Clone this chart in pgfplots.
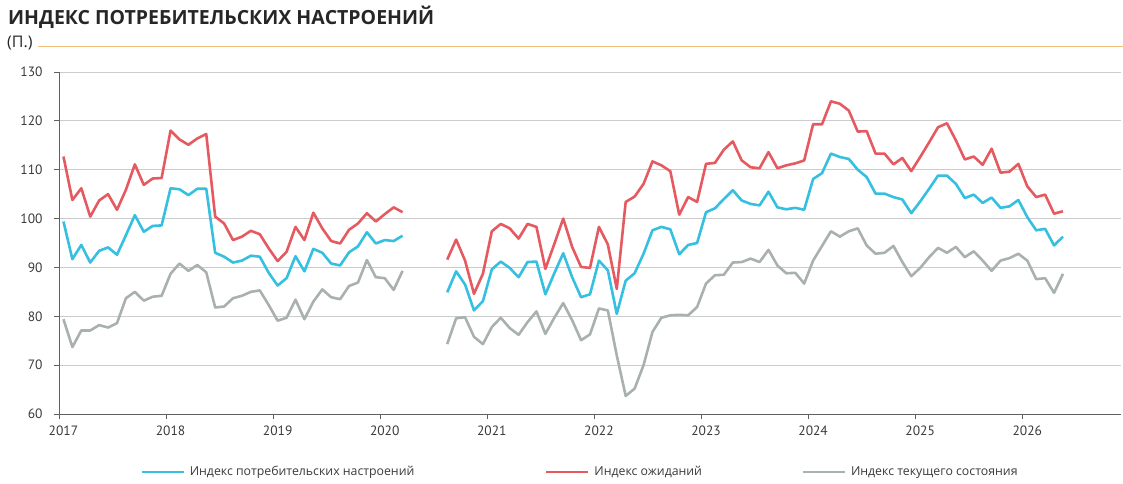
\documentclass[border=0pt]{standalone}
\usepackage{fontspec}
\setmainfont{PT Sans}
\newfontfamily\titlefont{Open Sans}
\usepackage{pgfplots}
\usepackage{pgfplotstable}
\pgfplotsset{compat=1.18}
\definecolor{cblue}{HTML}{35BFE0}
\definecolor{cred}{HTML}{E55A60}
\definecolor{cgray}{HTML}{A9B1B0}
\definecolor{ctext}{HTML}{3A3A3A}
\definecolor{ctitle}{HTML}{262626}
\definecolor{corange}{HTML}{F0BE78}
\definecolor{axgray}{HTML}{606060}
\definecolor{gridgray}{HTML}{CCCCCC}
\pgfplotstableread{
x ci ei cs
0 99.4 112.7 79.4
1 91.7 103.8 73.7
2 94.6 106.2 77.1
3 91.0 100.4 77.1
4 93.4 103.7 78.2
5 94.1 105.0 77.7
6 92.6 101.8 78.6
7 96.6 105.9 83.7
8 100.7 111.1 85.0
9 97.3 106.9 83.2
10 98.5 108.2 84.0
11 98.6 108.3 84.2
12 106.2 118.0 88.7
13 106.0 116.2 90.8
14 104.8 115.1 89.3
15 106.1 116.4 90.5
16 106.1 117.3 89.0
17 93.0 100.4 81.8
18 92.2 99.0 82.0
19 91.0 95.6 83.7
20 91.4 96.3 84.2
21 92.4 97.5 85.0
22 92.2 96.8 85.3
23 88.9 93.9 82.3
24 86.3 91.3 79.1
25 87.8 93.2 79.7
26 92.3 98.3 83.4
27 89.2 95.6 79.4
28 93.8 101.2 83.0
29 93.0 98.0 85.5
30 90.8 95.4 83.9
31 90.4 94.9 83.5
32 93.1 97.7 86.2
33 94.3 99.0 86.9
34 97.2 101.1 91.5
35 94.9 99.4 88.0
36 95.6 100.9 87.8
37 95.4 102.3 85.4
38 96.5 101.3 89.3
39 nan nan nan
43 84.9 91.6 74.3
44 89.2 95.7 79.6
45 86.5 91.4 79.8
46 81.2 84.6 75.8
47 83.1 88.7 74.3
48 89.6 97.4 77.8
49 91.2 98.9 79.7
50 89.9 98.0 77.6
51 88.0 95.9 76.2
52 91.1 98.9 78.8
53 91.2 98.3 81.0
54 84.5 89.7 76.4
55 88.8 94.8 79.7
56 92.9 100.0 82.7
57 88.0 94.2 79.2
58 83.9 90.1 75.1
59 84.5 89.9 76.3
60 91.4 98.3 81.6
61 89.4 94.7 81.2
62 80.5 85.6 72.0
63 87.3 103.4 63.7
64 88.8 104.5 65.2
65 92.8 107.1 70.0
66 97.6 111.7 76.8
67 98.3 110.9 79.7
68 97.8 109.7 80.2
69 92.7 100.8 80.3
70 94.6 104.4 80.2
71 95.0 103.4 81.9
72 101.3 111.2 86.7
73 102.1 111.4 88.4
74 104.0 114.1 88.5
75 105.8 115.8 91.0
76 103.7 111.9 91.1
77 103.0 110.5 91.8
78 102.7 110.3 91.1
79 105.5 113.6 93.6
80 102.3 110.3 90.4
81 101.9 110.9 88.8
82 102.2 111.3 88.9
83 101.8 111.9 86.7
84 108.1 119.3 91.4
85 109.3 119.3 94.4
86 113.3 124.0 97.4
87 112.6 123.5 96.3
88 112.2 122.1 97.4
89 110.0 117.8 98.0
90 108.5 117.9 94.5
91 105.1 113.3 92.8
92 105.1 113.3 93.0
93 104.4 111.1 94.4
94 103.9 112.4 91.1
95 101.1 109.7 88.2
96 103.5 112.6 89.9
97 106.1 115.6 92.1
98 108.8 118.7 94.0
99 108.8 119.5 93.0
100 107.1 116.0 94.2
101 104.2 112.1 92.1
102 104.9 112.7 93.3
103 103.2 111.0 91.4
104 104.3 114.3 89.3
105 102.2 109.4 91.4
106 102.5 109.6 91.9
107 103.8 111.2 92.8
108 100.3 106.6 91.4
109 97.6 104.4 87.6
110 97.9 104.9 87.8
111 94.5 101.0 84.8
112 96.3 101.5 88.7
}\data
\begin{document}
\begin{tikzpicture}
\useasboundingbox (-59pt,-69pt) rectangle (1064pt,414pt);
\begin{axis}[
  scale only axis, width=1062pt, height=342pt,
  xmin=-0.5, xmax=118.5, ymin=60, ymax=130,
  ytick={60,70,...,130},
  xtick={-0.5,11.5,...,107.5},
  xticklabels={2017,2018,2019,2020,2021,2022,2023,2024,2025,2026},
  xticklabel style={xshift=4.46pt, yshift=-3pt},
  yticklabel style={xshift=-8pt},
  separate axis lines,
  axis x line*=bottom, axis y line*=left,
  axis line style={-, draw=axgray, line width=0.9pt},
  tick align=outside, major tick length=5pt,
  tick style={draw=axgray, line width=0.9pt},
  ymajorgrids, grid style={draw=gridgray, line width=0.8pt},
  ticklabel style={font=\fontsize{13.5}{16}\selectfont, text=ctext},
  /pgf/number format/assume math mode=true,
  unbounded coords=jump,
  legend columns=3,
  legend cell align=left,
  legend style={at={(0.0763,-0.1696)}, anchor=west, draw=none, fill=none, inner sep=0pt,
     nodes={inner sep=0pt}, /tikz/every even column/.style={column sep=0pt},
     /tikz/every odd column/.style={column sep=0pt},
     font=\titlefont\fontsize{12.3}{15}\selectfont, text=ctext},
  legend image code/.code={\draw[#1] (0pt,0pt) -- (42pt,0pt);},
]
\addplot[cblue, line width=2.6pt, line join=round] table[x=x, y=ci] {\data};
\addlegendentry{\makebox[360pt][l]{\hspace{5pt}Индекс потребительских настроений}}
\addplot[cred, line width=2.6pt, line join=round] table[x=x, y=ei] {\data};
\addlegendentry{\makebox[212pt][l]{\hspace{5pt}Индекс ожиданий}}
\addplot[cgray, line width=2.6pt, line join=round] table[x=x, y=cs] {\data};
\addlegendentry{\hspace{5pt}Индекс текущего состояния}
\end{axis}
\node[anchor=base west, inner sep=0, font=\titlefont\fontsize{19.5}{23}\selectfont\bfseries, text=ctitle] at (-51pt,389pt) {ИНДЕКС ПОТРЕБИТЕЛЬСКИХ НАСТРОЕНИЙ};
\node[anchor=base west, inner sep=0, font=\titlefont\fontsize{16}{19}\selectfont, text=ctitle] at (-52pt,366.2pt) {(П.)};
\draw[corange, line width=0.8pt] (-21pt,367.3pt) -- (1064pt,367.3pt);
\end{tikzpicture}
\end{document}
